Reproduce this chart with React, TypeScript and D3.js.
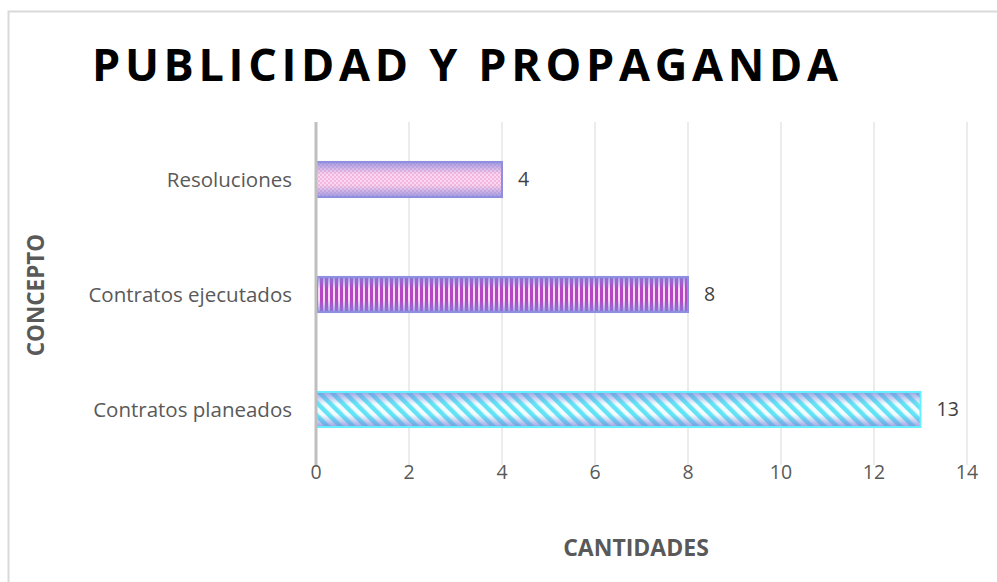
import React from "react";
import * as d3 from "d3";

const categories = ["Resoluciones", "Contratos ejecutados", "Contratos planeados"];
const values = [4, 8, 13];
const ticks = [0, 2, 4, 6, 8, 10, 12, 14];
const title = "PUBLICIDAD Y PROPAGANDA";
const xTitle = "CANTIDADES";
const yTitle = "CONCEPTO";

const W = 997;
const H = 582;

export default function App() {
  const x = d3.scaleLinear().domain([0, 14]).range([316, 967]);
  const y = d3
    .scaleBand<string>()
    .domain(categories)
    .range([122, 467])
    .paddingInner(0.695)
    .paddingOuter(0.3475);
  const font = "'Open Sans', sans-serif";
  const fills = ["url(#pDots)", "url(#pVert)", "url(#pDiag)"];
  const strokes = ["#8f8fe0", "#8f8fe0", "#66f0ff"];
  return (
    <div style={{ position: "absolute", left: 0, top: 0 }}>
      <svg width={W} height={H} style={{ display: "block", background: "#fff" }}>
        <defs>
          <linearGradient id="gEdge" x1="0" y1="0" x2="0" y2="1">
            <stop offset="0" stopColor="#7f86dc" stopOpacity="0.75" />
            <stop offset="0.35" stopColor="#7f86dc" stopOpacity="0" />
            <stop offset="0.65" stopColor="#7f86dc" stopOpacity="0" />
            <stop offset="1" stopColor="#7f86dc" stopOpacity="0.75" />
          </linearGradient>
          <pattern id="pDots" width="4" height="4" patternUnits="userSpaceOnUse">
            <rect width="4" height="4" fill="#f4b6e0" />
            <rect width="2" height="2" fill="#f9d8ef" />
            <rect x="2" y="2" width="2" height="2" fill="#f9d8ef" />
          </pattern>
          <pattern id="pVert" width="5" height="5" patternUnits="userSpaceOnUse">
            <rect width="5" height="5" fill="#f3dcf3" />
            <rect width="3" height="5" fill="#b746c4" />
          </pattern>
          <pattern
            id="pDiag"
            width="9"
            height="9"
            patternUnits="userSpaceOnUse"
            patternTransform="rotate(-45)"
          >
            <rect width="9" height="9" fill="#f2fbfd" />
            <rect width="4.5" height="9" fill="#62e4f6" />
          </pattern>
        </defs>
        <rect x={8.5} y={11.5} width={W} height={H} fill="none" stroke="#d9d9d9" strokeWidth={2} />
        <text
          x={465}
          y={81}
          textAnchor="middle"
          fontFamily={font}
          fontWeight="bold"
          fontSize={45}
          fill="#000"
          textLength={746}
          lengthAdjust="spacing"
        >
          {title}
        </text>
        {ticks.map((t) => (
          <line key={"g" + t} x1={x(t)} x2={x(t)} y1={122} y2={465} stroke="#d9d9d9" strokeWidth={1} />
        ))}
        {categories.map((c, i) => {
          const y0 = y(c) as number;
          const bw = y.bandwidth();
          const w = x(values[i]) - x(0);
          return (
            <g key={c}>
              <rect x={x(0)} y={y0} width={w} height={bw} fill={fills[i]} />
              <rect x={x(0)} y={y0} width={w} height={bw} fill="url(#gEdge)" />
              <rect x={x(0)} y={y0} width={w} height={bw} fill="none" stroke={strokes[i]} strokeWidth={2} />
              <text
                x={x(values[i]) + 16}
                y={y0 + bw / 2}
                dy="0.35em"
                fontFamily={font}
                fontSize={19.5}
                fill="#404040"
              >
                {values[i]}
              </text>
              <text
                x={292}
                y={y0 + bw / 2}
                dy="0.35em"
                textAnchor="end"
                fontFamily={font}
                fontSize={20.5}
                fill="#595959"
              >
                {c}
              </text>
            </g>
          );
        })}
        <line x1={x(0)} x2={x(0)} y1={122} y2={465} stroke="#bfbfbf" strokeWidth={3} />
        {ticks.map((t) => (
          <text
            key={"t" + t}
            x={x(t)}
            y={472}
            dy="0.35em"
            textAnchor="middle"
            fontFamily={font}
            fontSize={19.5}
            fill="#595959"
          >
            {t}
          </text>
        ))}
        <text
          x={636}
          y={548}
          dy="0.35em"
          textAnchor="middle"
          fontFamily={font}
          fontWeight="bold"
          fontSize={23}
          fill="#595959"
        >
          {xTitle}
        </text>
        <text
          transform="translate(36,295) rotate(-90)"
          dy="0.35em"
          textAnchor="middle"
          fontFamily={font}
          fontWeight="bold"
          fontSize={22.5}
          fill="#595959"
        >
          {yTitle}
        </text>
      </svg>
    </div>
  );
}
